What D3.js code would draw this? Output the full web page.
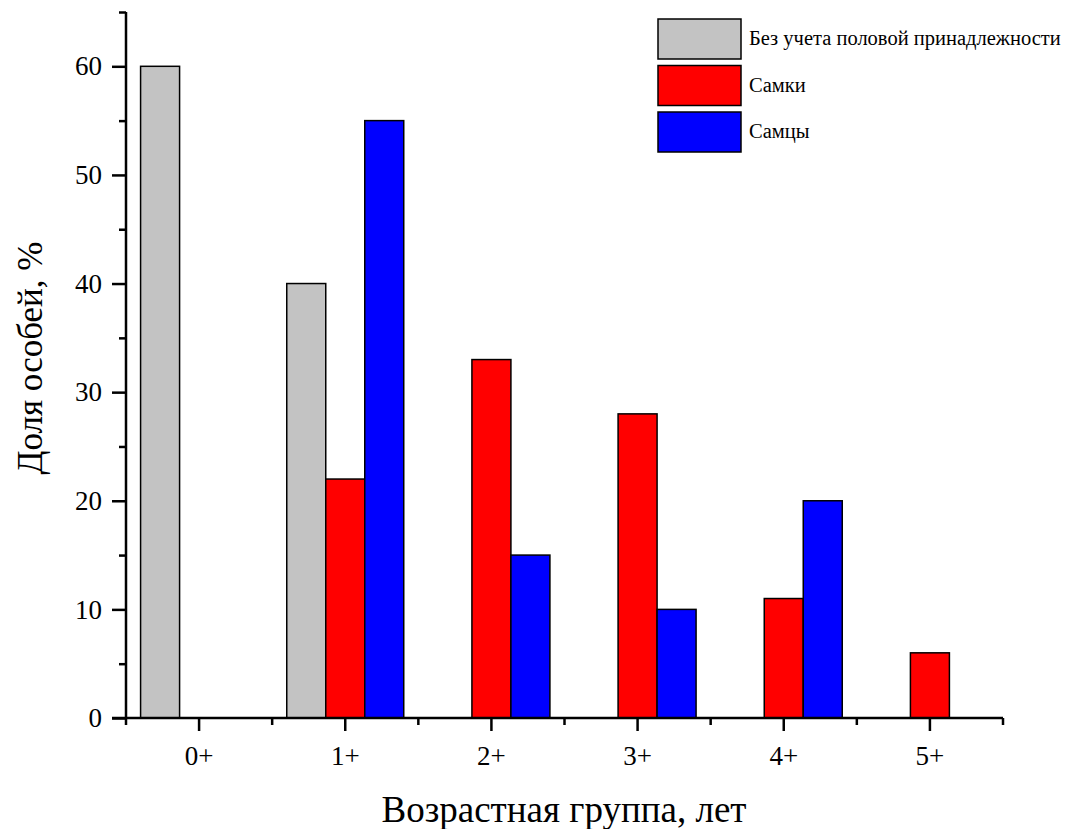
<!DOCTYPE html>
<html>
<head>
<meta charset="utf-8">
<script src="https://cdn.jsdelivr.net/npm/d3@7"></script>
<style>
  body { margin: 0; background: #fff; }
  text { font-family: "Liberation Serif", "Times New Roman", serif; fill: #000; }
</style>
</head>
<body>
<div id="chart"></div>
<script>
const ageGroups = ["0+", "1+", "2+", "3+", "4+", "5+"];
const seriesNames = ["Без учета половой принадлежности", "Самки", "Самцы"];
const seriesColors = ["#c3c3c3", "#ff0000", "#0000ff"];
const allValues = [60, 40, null, null, null, null];
const femaleValues = [null, 22, 33, 28, 11, 6];
const maleValues = [null, 55, 15, 10, 20, null];
const yTicks = [0, 10, 20, 30, 40, 50, 60];

const width = 1065, height = 829;
const mLeft = 126, mRight = 1003, mTop = 12, mBottom = 718;

const svg = d3.select("#chart")
  .append("svg")
  .attr("width", width)
  .attr("height", height);

const xScale = d3.scaleBand()
  .domain(ageGroups)
  .range([mLeft, mRight]);

const yScale = d3.scaleLinear()
  .domain([0, 65])
  .range([mBottom, mTop]);

const barWidth = 39;
const series = [allValues, femaleValues, maleValues];

const bars = [];
series.forEach((vals, s) => {
  vals.forEach((v, i) => {
    if (v != null) bars.push({ group: ageGroups[i], value: v, s: s });
  });
});

svg.selectAll("rect.bar")
  .data(bars)
  .join("rect")
  .attr("class", "bar")
  .attr("x", d => xScale(d.group) + xScale.bandwidth() / 2 + (d.s - 1) * barWidth - barWidth / 2)
  .attr("y", d => yScale(d.value))
  .attr("width", barWidth)
  .attr("height", d => yScale(0) - yScale(d.value))
  .attr("fill", d => seriesColors[d.s])
  .attr("stroke", "#000")
  .attr("stroke-width", 1.5);

// y axis
const yAxis = svg.append("g")
  .attr("transform", `translate(${mLeft},0)`)
  .call(d3.axisLeft(yScale).tickValues(yTicks).tickSize(14).tickPadding(10));
// minor y ticks
svg.append("g")
  .attr("transform", `translate(${mLeft},0)`)
  .call(d3.axisLeft(yScale).tickValues([5, 15, 25, 35, 45, 55, 65]).tickSize(7).tickFormat(""))
  .call(g => g.select(".domain").remove())
  .selectAll("line").attr("stroke-width", 2.5);

// x axis
const xAxis = svg.append("g")
  .attr("transform", `translate(0,${mBottom})`)
  .call(d3.axisBottom(xScale).tickSize(13).tickPadding(15));
// minor x ticks at band edges
const edges = ageGroups.map(g => xScale(g)).concat([mRight]);
svg.append("g")
  .selectAll("line")
  .data(edges)
  .join("line")
  .attr("x1", d => d).attr("x2", d => d)
  .attr("y1", mBottom).attr("y2", mBottom + 7)
  .attr("stroke", "#000").attr("stroke-width", 2.5);

[yAxis, xAxis].forEach(a => {
  a.select(".domain").attr("stroke-width", 2.5);
  a.selectAll(".tick line").attr("stroke-width", 2.5);
  a.selectAll(".tick text")
    .style("font-family", "Liberation Serif, serif")
    .style("font-size", "27px");
});
yAxis.select(".domain").attr("d", `M0,${mTop}V${mBottom}`);
xAxis.select(".domain").attr("d", `M${mLeft - 14},0H${mRight}`);

// axis titles
svg.append("text")
  .attr("transform", `translate(42,${(mTop + mBottom) / 2 - 7}) rotate(-90)`)
  .attr("text-anchor", "middle")
  .style("font-size", "35px")
  .text("Доля особей, %");

svg.append("text")
  .attr("x", 564)
  .attr("y", 822)
  .attr("text-anchor", "middle")
  .style("font-size", "37px")
  .text("Возрастная группа, лет");

// legend
const legend = svg.append("g")
  .attr("transform", "translate(658,19)")
  .selectAll("g")
  .data(seriesNames)
  .join("g")
  .attr("transform", (d, i) => `translate(0,${i * 46.5})`);

legend.append("rect")
  .attr("width", 83)
  .attr("height", 40)
  .attr("fill", (d, i) => seriesColors[i])
  .attr("stroke", "#000")
  .attr("stroke-width", 1.5);

legend.append("text")
  .attr("x", 91)
  .attr("y", 26)
  .style("font-size", "20.5px")
  .text(d => d);
</script>
</body>
</html>
